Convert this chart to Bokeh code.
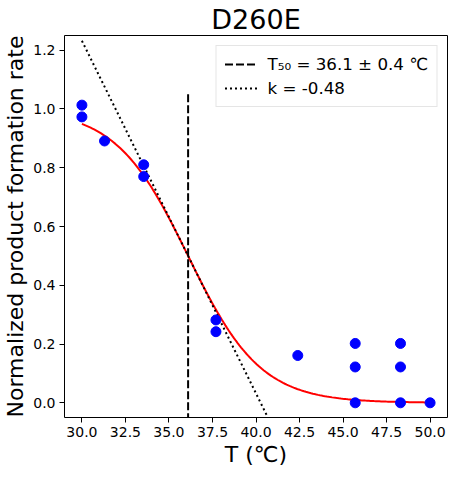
import numpy as np
from bokeh.plotting import figure
from bokeh.models import FixedTicker, PrintfTickFormatter, Legend, LegendItem
from bokeh.embed import file_html
from bokeh.resources import INLINE

# data
temp = [30.0, 30.0, 31.3, 33.55, 33.55, 37.7, 37.7, 42.4, 45.7, 45.7, 45.7, 48.3, 48.3, 48.3, 50.0]
rate = [1.013, 0.973, 0.891, 0.81, 0.77, 0.282, 0.242, 0.161, 0.202, 0.122, 0.0, 0.202, 0.122, 0.0, 0.0]
t50 = 36.1
t50_err = 0.4
k = -0.48
x_ticks = [30.0, 32.5, 35.0, 37.5, 40.0, 42.5, 45.0, 47.5, 50.0]
y_ticks = [0.0, 0.2, 0.4, 0.6, 0.8, 1.0, 1.2]

FONT = "DejaVu Sans"

p = figure(width=448, height=471, x_range=(29, 51), y_range=(-0.05, 1.25),
           output_backend="svg", toolbar_location=None,
           min_border_left=59, min_border_right=1, min_border_top=32, min_border_bottom=54)
p.background_fill_color = "white"
p.border_fill_color = "white"
p.outline_line_color = "black"
p.outline_line_width = 1
p.xgrid.visible = False
p.ygrid.visible = False

p.title.text = "D260E"
p.title.align = "center"
p.title.text_font = FONT
p.title.text_font_size = "27px"
p.title.text_font_style = "normal"
p.title.text_color = "black"
p.title.standoff = 2

for ax in (p.xaxis[0], p.yaxis[0]):
    ax.axis_line_color = None
    ax.major_tick_out = 5
    ax.major_tick_in = 0
    ax.minor_tick_line_color = None
    ax.major_tick_line_color = "black"
    ax.major_label_text_font = FONT
    ax.major_label_text_font_size = "14px"
    ax.major_label_text_color = "black"
    ax.major_label_standoff = 4
    ax.axis_label_text_font = FONT
    ax.axis_label_text_font_size = "22px"
    ax.axis_label_text_font_style = "normal"
    ax.axis_label_text_color = "black"
    ax.axis_label_standoff = 2
    ax.formatter = PrintfTickFormatter(format="%.1f")

p.xaxis[0].ticker = FixedTicker(ticks=x_ticks)
p.yaxis[0].ticker = FixedTicker(ticks=y_ticks)
p.xaxis[0].axis_label = "T (℃)"
p.yaxis[0].axis_label = "Normalized product formation rate"

# fitted sigmoid from the stated parameters
tf = np.linspace(min(temp), max(temp), 200)
fit = 1.0 / (1.0 + np.exp(-k * (tf - t50)))
p.line(tf, fit, line_color="red", line_width=2)

# tangent at T50
tt = np.array([30.0, 50.0])
tang = 0.5 + (k / 4.0) * (tt - t50)
r_tan = p.line(tt, tang, line_color="black", line_width=2, line_dash="2 3")

# vertical T50 line
r_v = p.line([t50, t50], [-0.1, 1.05], line_color="black", line_width=2, line_dash="8 3")

p.scatter(temp, rate, size=10, fill_color="blue", line_color="blue")

legend = Legend(items=[
    LegendItem(label=f"T₅₀ = {t50} ± {t50_err} ℃", renderers=[r_v]),
    LegendItem(label=f"k = {k}", renderers=[r_tan]),
], location="top_right")
legend.label_text_font = FONT
legend.label_text_font_size = "16.7px"
legend.label_text_color = "black"
legend.glyph_width = 33
legend.glyph_height = 20
legend.label_height = 20
legend.label_standoff = 10
legend.spacing = 4
legend.padding = 8
legend.margin = 10
legend.border_line_color = "#cccccc"
legend.border_line_width = 1
legend.background_fill_alpha = 0.8
p.add_layout(legend)

open("out.html", "w").write(file_html(p, INLINE))
